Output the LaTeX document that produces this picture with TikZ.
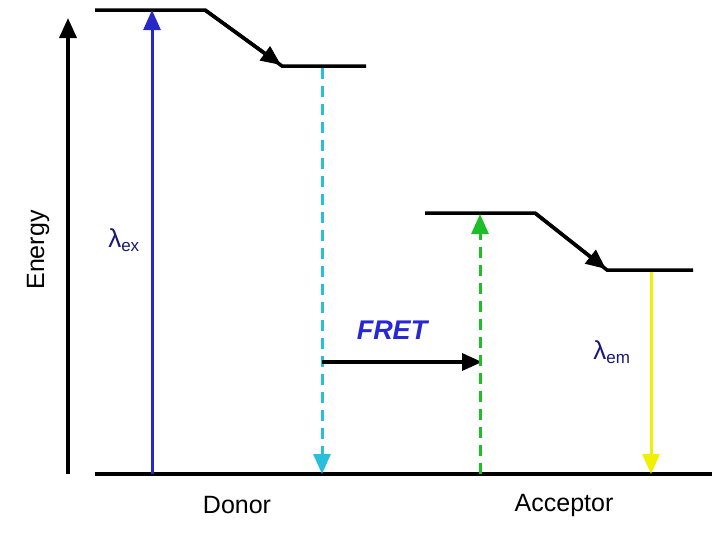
\documentclass[tikz,border=0pt]{standalone}
\usepackage{fontspec}
\setmainfont{Liberation Sans}
\usetikzlibrary{arrows.meta}
\definecolor{dblue}{RGB}{40,40,200}
\definecolor{fcyan}{RGB}{40,190,220}
\definecolor{fgreen}{RGB}{30,190,40}
\definecolor{fyellow}{RGB}{240,240,0}
\definecolor{fretblue}{RGB}{40,40,210}
\tikzset{lvl/.style={line width=3.5pt,black},
 tip/.style={-{Triangle[length=20pt,width=17pt]}},
 lab/.style={font=\fontsize{25}{30}\selectfont}}
\begin{document}
\begin{tikzpicture}[x=1pt,y=-1pt]
\useasboundingbox (0,0) rectangle (728,542);
\coordinate (axB) at (68,474); \coordinate (axT) at (68,18);
\draw[line width=3.5pt,tip] (axB) -- (axT);
\node[lab,rotate=90] (en) at (38,250) {Energy};
\coordinate (b0) at (95,474); \coordinate (b1) at (712,474);
\draw[lvl] (b0) -- (b1);
% donor
\coordinate (d0) at (95,10); \coordinate (d1) at (205,10);
\coordinate (d2) at (282,66); \coordinate (d3) at (366,66);
\draw[lvl] (d0) -- (d1) -- (d2) -- (d3);
\draw[lvl,tip] (d1) -- (281,65);
% acceptor
\coordinate (a0) at (425,213); \coordinate (a1) at (535,213);
\coordinate (a2) at (607,270); \coordinate (a3) at (693,270);
\draw[lvl] (a0) -- (a1) -- (a2) -- (a3);
\draw[lvl,tip] (a1) -- (606,269);
% excitation
\coordinate (ex0) at (152,474); \coordinate (ex1) at (152,10);
\draw[dblue,line width=3pt,tip] (ex0) -- (ex1);
\node[font=\fontsize{26}{30}\selectfont,text=dblue!60!black] (lex) at (124,240) {λ\textsubscript{\fontsize{17}{20}\selectfont ex}};
% donor emission dashed
\coordinate (c0) at (322,68); \coordinate (c1) at (322,474);
\draw[fcyan,line width=3pt,dash pattern=on 11pt off 7pt,tip] (c0) -- (c1);
% FRET
\node[font=\fontsize{27}{32}\selectfont\bfseries\itshape,text=fretblue] (fret) at (392,330) {FRET};
\coordinate (f0) at (322,362); \coordinate (f1) at (482,362);
\draw[line width=3.5pt,tip] (f0) -- (f1);
% acceptor excitation
\coordinate (g0) at (480,474); \coordinate (g1) at (480,214);
\draw[fgreen,line width=3pt,dash pattern=on 11pt off 7pt,tip] (g0) -- (g1);
% acceptor emission
\coordinate (y0) at (651,272); \coordinate (y1) at (651,474);
\draw[fyellow,line width=3pt,tip] (y0) -- (y1);
\node[font=\fontsize{26}{30}\selectfont,text=dblue!60!black] (lem) at (612,352) {λ\textsubscript{\fontsize{17}{20}\selectfont em}};
\node[lab] (don) at (237,505) {Donor};
\node[lab] (acc) at (564,505) {Acceptor};
\end{tikzpicture}
\end{document}
